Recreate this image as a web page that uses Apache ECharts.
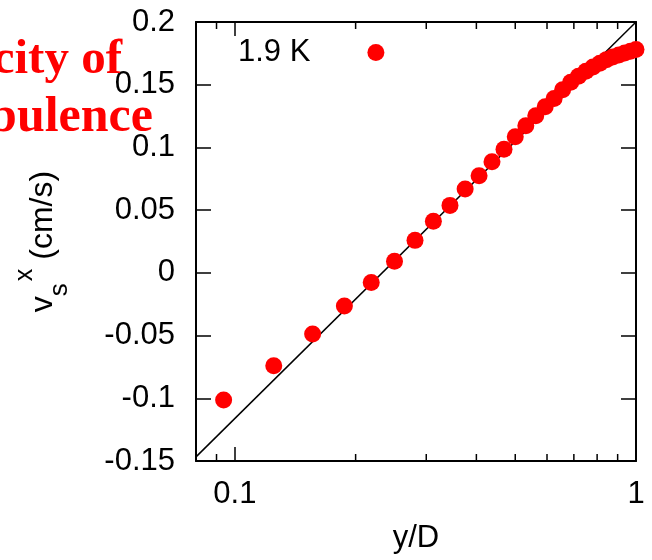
<!DOCTYPE html>
<html><head><meta charset="utf-8">
<script src="https://cdn.jsdelivr.net/npm/echarts@6/dist/echarts.min.js"></script>
<style>html,body{margin:0;padding:0;background:#fff}#c{width:652px;height:560px}</style>
</head><body><div id="c"></div>
<script>
const seriesName = '1.9 K';
const xValues = [0.09375, 0.125, 0.15625, 0.1875, 0.21875, 0.25, 0.28125, 0.3125, 0.34375, 0.375,
  0.40625, 0.4375, 0.46875, 0.5, 0.53125, 0.5625, 0.59375, 0.625, 0.65625, 0.6875,
  0.71875, 0.75, 0.78125, 0.8125, 0.84375, 0.875, 0.90625, 0.9375, 0.96875, 1.0];
const yValues = [-0.1014, -0.0741, -0.0488, -0.0265, -0.0076, 0.0092, 0.0259, 0.0411, 0.0538, 0.0668,
  0.0774, 0.0886, 0.0985, 0.1085, 0.1173, 0.1253, 0.1325, 0.1391, 0.1460, 0.1520,
  0.1568, 0.1608, 0.1642, 0.1672, 0.1700, 0.1721, 0.1737, 0.1752, 0.1767, 0.1780];
const fitLineX = [0.08, 1];
const fitLineY = [-0.1467, 0.2];
const xMinorTicks = [0.09, 0.2, 0.3, 0.4, 0.5, 0.6, 0.7, 0.8, 0.9];
const xRange = [0.08, 1];
const yRange = [-0.15, 0.2];
const yStep = 0.05;
const titleLines = ['Velocity of', 'turbulence'];

const FONT = 'Liberation Sans';
const chart = echarts.init(document.getElementById('c'), null, {renderer: 'canvas'});
const points = xValues.map((x, i) => [x, yValues[i]]);
const fitLine = fitLineX.map((x, i) => [x, fitLineY[i]]);
const minorBottom = xMinorTicks.map(x => [x, yRange[0]]);
const minorTop = xMinorTicks.map(x => [x, yRange[1]]);

const axisLine = {show: true, onZero: false, lineStyle: {color: '#000', width: 2}};
const baseX = {
  type: 'log', min: xRange[0], max: xRange[1], splitLine: {show: false},
  axisLine: axisLine,
  axisTick: {show: true, inside: true, length: 14, lineStyle: {color: '#000', width: 1.5}},
  minorTick: {show: false}
};
const baseY = {
  type: 'value', min: yRange[0], max: yRange[1], interval: yStep, splitLine: {show: false},
  axisLine: axisLine,
  axisTick: {show: true, inside: true, length: 15, lineStyle: {color: '#000', width: 1.5}}
};

chart.setOption({
  animation: false,
  backgroundColor: '#fff',
  grid: {left: 196, right: 16, top: 22, bottom: 99, containLabel: false},
  legend: {
    data: [seriesName], left: 238, top: 37, padding: 0, align: 'right',
    icon: 'circle', itemWidth: 17, itemHeight: 17,
    textStyle: {fontFamily: FONT, fontSize: 31, color: '#000', lineHeight: 30, padding: [0, 52, 0, 0]}
  },
  xAxis: [
    Object.assign({}, baseX, {
      position: 'bottom', name: 'y/D', nameLocation: 'middle', nameGap: 62,
      nameTextStyle: {fontFamily: FONT, fontSize: 31, color: '#000'},
      axisLabel: {show: true, showMinLabel: false, margin: 18, fontFamily: FONT, fontSize: 31, color: '#000'}
    }),
    Object.assign({}, baseX, {position: 'top', axisLabel: {show: false}})
  ],
  yAxis: [
    Object.assign({}, baseY, {
      position: 'left', name: '{m|v}{sub|s}{sup|x}{m| (cm/s)}', nameLocation: 'middle', nameGap: 123,
      nameTextStyle: {
        fontFamily: FONT, fontSize: 32, color: '#000', lineHeight: 60,
        rich: {
          m: {fontFamily: FONT, fontSize: 32, color: '#000', lineHeight: 60, verticalAlign: 'middle'},
          sub: {fontFamily: FONT, fontSize: 26, color: '#000', lineHeight: 32, verticalAlign: 'bottom'},
          sup: {fontFamily: FONT, fontSize: 25, color: '#000', lineHeight: 32, verticalAlign: 'top', padding: [0, 0, 0, 2]}
        }
      },
      axisLabel: {show: true, margin: 21, fontFamily: FONT, fontSize: 31, color: '#000'}
    }),
    Object.assign({}, baseY, {position: 'right', axisLabel: {show: false}})
  ],
  series: [
    {
      type: 'line', name: 'fit', data: fitLine, xAxisIndex: 0, yAxisIndex: 0,
      symbol: 'none', lineStyle: {color: '#000', width: 1.5}, z: 2, silent: true
    },
    {
      type: 'scatter', name: seriesName, data: points, xAxisIndex: 0, yAxisIndex: 0,
      symbol: 'circle', symbolSize: 17, itemStyle: {color: '#ff0000', opacity: 1}, z: 3, clip: false
    },
    {
      type: 'scatter', name: 'minorB', data: minorBottom, symbol: 'rect', symbolSize: [1.5, 7],
      symbolOffset: [0, -3.5], itemStyle: {color: '#000', opacity: 1}, silent: true, z: 4, clip: false
    },
    {
      type: 'scatter', name: 'minorT', data: minorTop, symbol: 'rect', symbolSize: [1.5, 7],
      symbolOffset: [0, 3.5], itemStyle: {color: '#000', opacity: 1}, silent: true, z: 4, clip: false
    }
  ],
  graphic: [
    {type: 'text', x: 122, y: 60.5, z: 100, silent: true,
      style: {text: titleLines[0], fill: '#ff0000', font: 'bold 49px "Liberation Serif"', align: 'right', verticalAlign: 'middle'}},
    {type: 'text', x: 153, y: 118.5, z: 100, silent: true,
      style: {text: titleLines[1], fill: '#ff0000', font: 'bold 50px "Liberation Serif"', align: 'right', verticalAlign: 'middle'}}
  ]
});
</script>
</body></html>
